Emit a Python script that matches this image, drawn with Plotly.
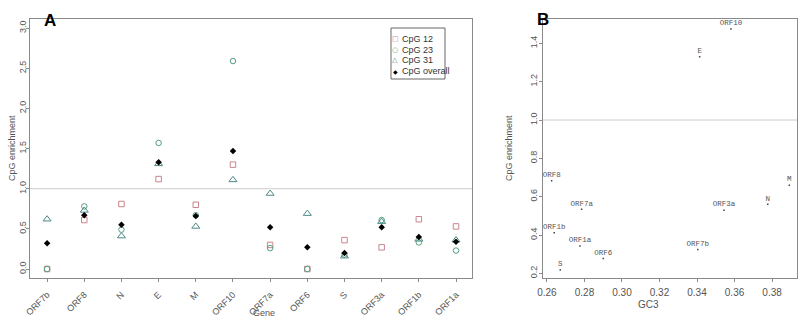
import plotly.graph_objects as go

genes = ["ORF7b", "ORF8", "N", "E", "M", "ORF10", "ORF7a", "ORF6", "S", "ORF3a", "ORF1b", "ORF1a"]
cpg12 = [0.00, 0.61, 0.81, 1.12, 0.80, 1.30, 0.30, 0.00, 0.36, 0.27, 0.62, 0.53]
cpg23 = [0.00, 0.78, 0.49, 1.57, 0.67, 2.59, 0.26, 0.00, 0.18, 0.61, 0.33, 0.23]
cpg31 = [0.62, 0.73, 0.41, 1.31, 0.53, 1.11, 0.94, 0.69, 0.16, 0.59, 0.37, 0.36]
cpg_overall = [0.32, 0.67, 0.55, 1.33, 0.66, 1.47, 0.52, 0.27, 0.20, 0.52, 0.40, 0.34]

gc3 = [0.3404, 0.2625, 0.3777, 0.3414, 0.3892, 0.3581, 0.2785, 0.2900, 0.2671, 0.3544, 0.2639, 0.2776]
cpg_overall_b = [0.325, 0.683, 0.56, 1.33, 0.66, 1.475, 0.534, 0.277, 0.218, 0.529, 0.412, 0.343]

yticks_a = [0.0, 0.5, 1.0, 1.5, 2.0, 2.5, 3.0]
yticks_b = [0.2, 0.4, 0.6, 0.8, 1.0, 1.2, 1.4]
xticks_b = [0.26, 0.28, 0.30, 0.32, 0.34, 0.36, 0.38]

legend_labels = ["CpG 12", "CpG 23", "CpG 31", "CpG overall"]
legend_glyphs = ["\u25a1", "\u25cb", "\u25b3", "\u25c6"]

W, H = 799, 323
col12 = "#c9858b"
col23 = "#52a07e"
col31 = "#4e8a88"
colors = [col12, col23, col31, "black"]
tickfont = dict(family="Liberation Sans, Arial", size=9, color="#555555")

fig = go.Figure()
idx = list(range(len(genes)))
fig.add_trace(go.Scatter(x=idx, y=cpg12, mode="markers", name="CpG 12",
                         marker=dict(symbol="square-open", size=5.5, color=col12, line=dict(width=1))))
fig.add_trace(go.Scatter(x=idx, y=cpg23, mode="markers", name="CpG 23",
                         marker=dict(symbol="circle-open", size=5.5, color=col23, line=dict(width=1))))
fig.add_trace(go.Scatter(x=idx, y=cpg31, mode="markers", name="CpG 31",
                         marker=dict(symbol="triangle-up-open", size=7, color=col31, line=dict(width=1))))
fig.add_trace(go.Scatter(x=idx, y=cpg_overall, mode="markers", name="CpG overall",
                         marker=dict(symbol="diamond", size=5, color="black")))

fig.add_trace(go.Scatter(x=gc3, y=cpg_overall_b, mode="markers+text", text=genes,
                         textposition="top center", showlegend=False, xaxis="x2", yaxis="y2",
                         textfont=dict(family="Liberation Mono, Courier New, monospace", size=7.5, color="#555555"),
                         marker=dict(symbol="square", size=1.5, color="#444444")))

def px_x(p):
    return p / W

def px_y(p):
    return 1 - p / H

axis_common = dict(showgrid=False, zeroline=False, showline=True, mirror=True,
                   linecolor="#8a8a8a", linewidth=1, ticks="outside", ticklen=3,
                   tickcolor="#8a8a8a", tickfont=tickfont, automargin=False)

fig.update_layout(
    width=W, height=H, margin=dict(l=0, r=0, t=0, b=0, autoexpand=False),
    paper_bgcolor="white", plot_bgcolor="white", showlegend=False,
    xaxis=dict(domain=[px_x(30), px_x(472)], range=[-0.46, 11.43],
               tickmode="array", tickvals=idx, ticktext=genes, tickangle=-45,
               ticklabelstandoff=4, **axis_common),
    yaxis=dict(domain=[px_y(278), px_y(18.5)], range=[-0.112, 3.12],
               tickmode="array", tickvals=yticks_a, ticktext=[f"{v:.1f}" for v in yticks_a],
               tickangle=-90, ticklabelstandoff=-4, **axis_common),
    xaxis2=dict(domain=[px_x(543), px_x(797)], range=[0.2579, 0.3933], anchor="y2",
                tickmode="array", tickvals=xticks_b, ticktext=[f"{v:.2f}" for v in xticks_b],
                ticklabelstandoff=2,
                **{**axis_common, "tickfont": dict(family="Liberation Sans, Arial", size=10, color="#555555")}),
    yaxis2=dict(domain=[px_y(278), px_y(18.5)], range=[0.1758, 1.5295], anchor="x2",
                tickmode="array", tickvals=yticks_b, ticktext=[f"{v:.1f}" for v in yticks_b],
                tickangle=-90, ticklabelstandoff=-2, **axis_common),
)

fig.add_hline(y=1.0, line=dict(color="#cccccc", width=1), xref="x", yref="y")
fig.add_shape(type="line", xref="x2 domain", yref="y2", x0=0, x1=1, y0=1.0, y1=1.0,
              line=dict(color="#cccccc", width=1))

# legend box (manual, R-style)
fig.add_shape(type="rect", xref="paper", yref="paper",
              x0=px_x(391), x1=px_x(445), y0=px_y(79), y1=px_y(28),
              line=dict(color="#666666", width=1), fillcolor="white")
for i, (lab, g, c) in enumerate(zip(legend_labels, legend_glyphs, colors)):
    yy = 39 + i * 10.7
    fig.add_annotation(text=g, x=px_x(395), y=px_y(yy), xref="paper", yref="paper",
                       showarrow=False, xanchor="center", yanchor="middle",
                       font=dict(family="DejaVu Sans", size=7 if i < 3 else 6, color=c))
    fig.add_annotation(text=lab, x=px_x(400), y=px_y(yy), xref="paper", yref="paper",
                       showarrow=False, xanchor="left", yanchor="middle",
                       font=dict(family="Liberation Sans, Arial", size=9, color="#333333"))

ann_font = dict(family="Liberation Sans, Arial", size=9, color="#555555")
fig.add_annotation(text="Gene", x=px_x(251), y=px_y(320), xref="paper", yref="paper",
                   showarrow=False, font=ann_font)
fig.add_annotation(text="GC3", x=px_x(661), y=px_y(312), xref="paper", yref="paper",
                   showarrow=False, font=dict(family="Liberation Sans, Arial", size=10, color="#555555"))
fig.add_annotation(text="CpG enrichment", x=px_x(5), y=px_y(148), xref="paper", yref="paper",
                   showarrow=False, textangle=-90, font=ann_font)
fig.add_annotation(text="CpG enrichment", x=px_x(509), y=px_y(148), xref="paper", yref="paper",
                   showarrow=False, textangle=-90, font=ann_font)
fig.add_annotation(text="<b>A</b>", x=px_x(42), y=px_y(9), xref="paper", yref="paper",
                   showarrow=False, font=dict(family="Liberation Sans, Arial", size=17, color="black"))
fig.add_annotation(text="<b>B</b>", x=px_x(551), y=px_y(8), xref="paper", yref="paper",
                   showarrow=False, font=dict(family="Liberation Sans, Arial", size=17, color="black"))

fig.write_html("out.html", config={"displayModeBar": False},
               post_script="document.body.style.margin='0';")
